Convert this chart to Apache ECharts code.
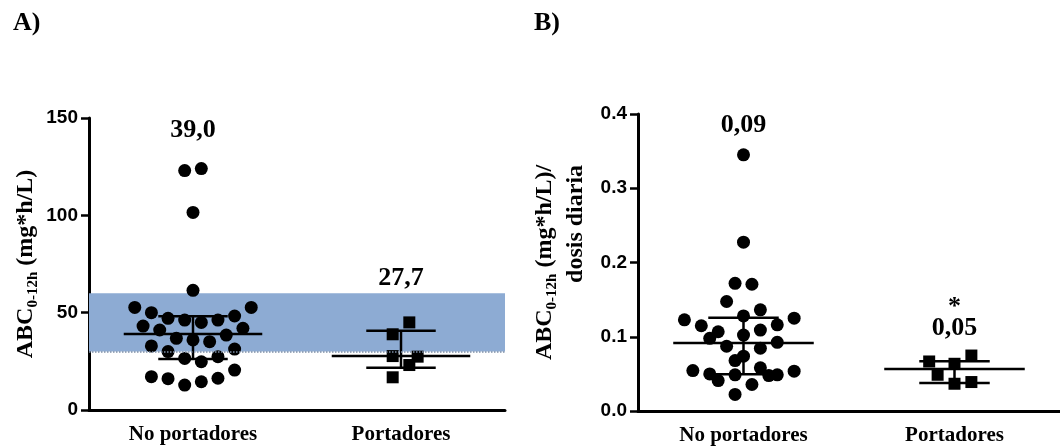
<!DOCTYPE html>
<html>
<head>
<meta charset="utf-8">
<script src="https://cdn.jsdelivr.net/npm/echarts/dist/echarts.min.js"></script>
<style>
html,body{margin:0;padding:0;background:#fff;}
#chart{width:1060px;height:446px;}
</style>
</head>
<body>
<div id="chart"></div>
<script>
// ---------- DATA ----------
const categories = ['No portadores', 'Portadores'];

// Panel A: ABC0-12h (mg*h/L)
const aNoValues = [123, 124, 101.5, 61.5, 52.7, 52.7, 50, 48.3, 47.1, 46.2, 45, 46.2, 43.1, 42, 41.1, 38.5, 36.8, 36, 35.1, 32.9, 31.3, 30, 26.5, 24.8, 27.4, 20.5, 17.1, 16.1, 12.8, 14.5, 16.3];
const aNoSlots  = [-1, 1, 0, 0, -7, 7, -5, 5, -3, -1, 1, 3, -6, 6, -4, 4, -2, 0, 2, -5, 5, -3, -1, 1, 3, 5, -5, -3, -1, 1, 3];
const aPortValues = [45, 38.9, 27.7, 27.4, 23.1, 16.8];
const aPortSlots  = [1, -1, -1, 2, 1, -1];
const aMean = [39.0, 27.7];
const aLow  = [26.2, 21.7];
const aHigh = [48.1, 40.7];
const aMeanLabels = ['39,0', '27,7'];
const aTicks = [0, 50, 100, 150];
const aRange = [30, 60];

// Panel B: ABC0-12h / dosis diaria
const bNoValues = [0.345, 0.2274, 0.172, 0.1707, 0.1475, 0.1362, 0.128, 0.1228, 0.125, 0.1148, 0.1161, 0.1067, 0.109, 0.1023, 0.0979, 0.0925, 0.0872, 0.0845, 0.0738, 0.0679, 0.0544, 0.0536, 0.0581, 0.05, 0.0487, 0.041, 0.0477, 0.0487, 0.0357, 0.0223];
const bNoSlots  = [0, 0, -1, 1, -2, 2, 0, -7, 6, -5, 4, -3, 2, 0, -4, 4, -2, 2, 0, -1, -6, 6, 2, -4, -1, -3, 3, 4, 1, -1];
const bPortValues = [0.0667, 0.0636, 0.0747, 0.0488, 0.0367, 0.039];
const bPortSlots  = [-3, 0, 2, -2, 0, 2];
const bMean = [0.0916, 0.0567];
const bLow  = [0.0496, 0.0376];
const bHigh = [0.1255, 0.067];
const bMeanLabels = ['0,09', '0,05'];
const bSigLabels = ['', '*'];
const bTicks = [0, 0.1, 0.2, 0.3, 0.4];

// ---------- BUILD ----------
const SLOT = 0.04;
function pts(vals, slots, cat) { return vals.map((v, i) => [cat + slots[i] * SLOT, v]); }
function stats(mean, lo, hi) { return mean.map((m, i) => [i, m, lo[i], hi[i]]); }

const serif = 'Liberation Serif';
const sans = 'Liberation Sans';
const LBL_FONT = 'bold 26px "Liberation Serif"';

function statsRender(labelY, labels, sigY, sigs) {
  return function (params, api) {
    const x = api.value(0), m = api.value(1), lo = api.value(2), hi = api.value(3);
    const W = 0.333, C = 0.167;
    const ml = api.coord([x - W, m]), mr = api.coord([x + W, m]);
    const tl = api.coord([x - C, hi]), tr = api.coord([x + C, hi]);
    const bl = api.coord([x - C, lo]), br = api.coord([x + C, lo]);
    const ct = api.coord([x, hi]), cb = api.coord([x, lo]);
    const st = {stroke: '#000', lineWidth: 2.5};
    const children = [
      {type: 'line', shape: {x1: ml[0], y1: ml[1], x2: mr[0], y2: mr[1]}, style: st},
      {type: 'line', shape: {x1: tl[0], y1: tl[1], x2: tr[0], y2: tr[1]}, style: st},
      {type: 'line', shape: {x1: bl[0], y1: bl[1], x2: br[0], y2: br[1]}, style: st},
      {type: 'line', shape: {x1: ct[0], y1: ct[1], x2: cb[0], y2: cb[1]}, style: st}
    ];
    const lp = api.coord([x, labelY[params.dataIndex]]);
    children.push({type: 'text', x: lp[0], y: lp[1], style: {text: labels[params.dataIndex], align: 'center', verticalAlign: 'middle', font: LBL_FONT, fill: '#000'}});
    if (sigs && sigs[params.dataIndex]) {
      const sp = api.coord([x, sigY[params.dataIndex]]);
      children.push({type: 'text', x: sp[0], y: sp[1], style: {text: sigs[params.dataIndex], align: 'center', verticalAlign: 'middle', font: LBL_FONT, fill: '#000'}});
    }
    return {type: 'group', children: children};
  };
}

const axisLineStyle = {color: '#000', width: 3};
function catAxis(grid) {
  return {
    type: 'category', data: categories, gridIndex: grid, boundaryGap: true,
    axisLine: {onZero: false, lineStyle: axisLineStyle},
    axisTick: {alignWithLabel: true, length: 7, lineStyle: {color: '#000', width: 2.5}},
    axisLabel: {color: '#000', fontFamily: serif, fontWeight: 'bold', fontSize: 21, margin: 14},
    splitLine: {show: false}
  };
}
function valX(grid) {
  return {type: 'value', gridIndex: grid, min: -0.5, max: 1.5, show: false, splitLine: {show: false}};
}
const nameRich = {
  n: {fontFamily: serif, fontWeight: 'bold', fontSize: 24, color: '#000', lineHeight: 31},
  s: {fontFamily: serif, fontWeight: 'bold', fontSize: 15, color: '#000', lineHeight: 15, verticalAlign: 'bottom'},
  r: {fontFamily: serif, fontWeight: 'bold', fontSize: 24, color: '#000', lineHeight: 31, align: 'right'}
};
const scatterStyle = {color: '#000', opacity: 1};

const option = {
  animation: false,
  backgroundColor: '#fff',
  title: [
    {text: 'A)', left: 8, top: 5, textStyle: {fontFamily: serif, fontWeight: 'bold', fontSize: 26, color: '#000'}},
    {text: 'B)', left: 529, top: 5, textStyle: {fontFamily: serif, fontWeight: 'bold', fontSize: 26, color: '#000'}}
  ],
  grid: [
    {left: 89, top: 118, width: 416, height: 292},
    {left: 638, top: 114, width: 427, height: 298}
  ],
  xAxis: [catAxis(0), valX(0), catAxis(1), valX(1)],
  yAxis: [
    {
      type: 'value', gridIndex: 0, min: 0, max: 150, interval: 50,
      axisLine: {show: true, onZero: false, lineStyle: axisLineStyle},
      axisTick: {show: true, length: 8, lineStyle: {color: '#000', width: 2.5}},
      axisLabel: {color: '#000', fontFamily: sans, fontWeight: 'bold', fontSize: 19, margin: 11,
        formatter: v => aTicks.indexOf(v) >= 0 ? String(v) : ''},
      splitLine: {show: false},
      name: '{n|ABC}{s|0-12h}{n| (mg*h/L)}', nameLocation: 'middle', nameGap: 48,
      nameTextStyle: {rich: nameRich}
    },
    {
      type: 'value', gridIndex: 1, min: 0, max: 0.4, interval: 0.1,
      axisLine: {show: true, onZero: false, lineStyle: axisLineStyle},
      axisTick: {show: true, length: 8, lineStyle: {color: '#000', width: 2.5}},
      axisLabel: {color: '#000', fontFamily: sans, fontWeight: 'bold', fontSize: 19, margin: 11,
        formatter: v => v.toFixed(1)},
      splitLine: {show: false},
      name: '{n|ABC}{s|0-12h}{n| (mg*h/L)/}\n{r|dosis diaria}', nameLocation: 'middle', nameGap: 47,
      nameTextStyle: {rich: nameRich}
    }
  ],
  series: [
    {
      type: 'scatter', xAxisIndex: 1, yAxisIndex: 0, symbol: 'circle', symbolSize: 13,
      itemStyle: scatterStyle, data: pts(aNoValues, aNoSlots, 0), z: 3,
      markArea: {silent: true, itemStyle: {color: '#8DABD3', opacity: 1},
        data: [[{yAxis: aRange[0], x: 89}, {yAxis: aRange[1], x: 505}]]},
      markLine: {silent: true, symbol: 'none', label: {show: false},
        lineStyle: {color: '#7d8fa8', type: 'dotted', width: 1.5},
        data: [[{yAxis: aRange[0], x: 89}, {yAxis: aRange[0], x: 505}]]}
    },
    {
      type: 'scatter', xAxisIndex: 1, yAxisIndex: 0, symbol: 'rect', symbolSize: 12,
      itemStyle: scatterStyle, data: pts(aPortValues, aPortSlots, 1), z: 3
    },
    {
      type: 'custom', xAxisIndex: 1, yAxisIndex: 0, z: 4,
      renderItem: statsRender([143.8, 67.8], aMeanLabels),
      data: stats(aMean, aLow, aHigh)
    },
    {
      type: 'scatter', xAxisIndex: 3, yAxisIndex: 1, symbol: 'circle', symbolSize: 13,
      itemStyle: scatterStyle, data: pts(bNoValues, bNoSlots, 0), z: 3
    },
    {
      type: 'scatter', xAxisIndex: 3, yAxisIndex: 1, symbol: 'rect', symbolSize: 12,
      itemStyle: scatterStyle, data: pts(bPortValues, bPortSlots, 1), z: 3
    },
    {
      type: 'custom', xAxisIndex: 3, yAxisIndex: 1, z: 4,
      renderItem: statsRender([0.385, 0.111], bMeanLabels, [0.14, 0.14], bSigLabels),
      data: stats(bMean, bLow, bHigh)
    }
  ]
};

const chart = echarts.init(document.getElementById('chart'), null, {renderer: 'canvas'});
chart.setOption(option);
</script>
</body>
</html>
